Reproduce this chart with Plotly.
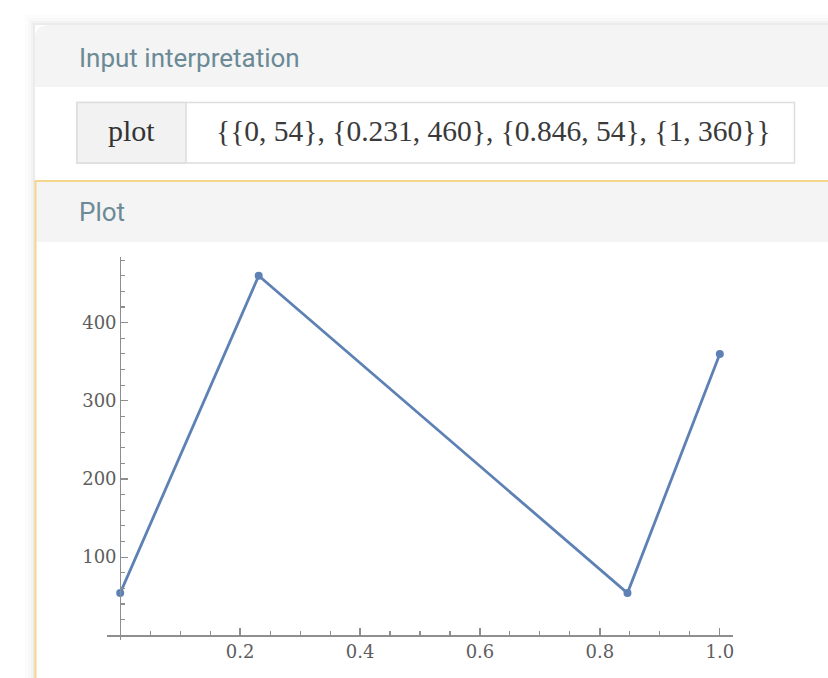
import plotly.graph_objects as go

# ---- data ----
x_vals = [0, 0.231, 0.846, 1]
y_vals = [54, 460, 54, 360]
x_tick_vals = [0.2, 0.4, 0.6, 0.8, 1.0]
x_tick_text = ["0.2", "0.4", "0.6", "0.8", "1.0"]
y_tick_vals = [100, 200, 300, 400]
y_tick_text = ["100", "200", "300", "400"]
input_label = "plot"
input_text = "{{0, 54}, {0.231, 460}, {0.846, 54}, {1, 360}}"
pod1_title = "Input interpretation"
pod2_title = "Plot"

W, H = 828, 678
ML, MT = 107, 257
PW, PH = 626, 383
MR = W - ML - PW
MB = H - MT - PH
x_range = [-0.022, 1.022]
y_range = [-6, 484]


def px(x):
    return (x - ML) / PW


def py(y):
    return 1 - (y - MT) / PH


fig = go.Figure()
fig.add_trace(go.Scatter(
    x=x_vals, y=y_vals, mode="lines+markers",
    line=dict(color="#5e81b5", width=2.8),
    marker=dict(color="#5e81b5", size=8),
    cliponaxis=False, hoverinfo="skip", showlegend=False,
))

shapes = []
# card shadow
for k, a in [(10, 0.010), (7, 0.014), (4, 0.020), (2, 0.030)]:
    shapes.append(dict(type="rect", xref="paper", yref="paper",
                       x0=px(35 - k), x1=px(W + 40), y0=py(25 - k), y1=py(H + 40),
                       line=dict(width=0), fillcolor=f"rgba(0,0,0,{a})", layer="below"))
# card white body
shapes.append(dict(type="rect", xref="paper", yref="paper",
                   x0=px(35), x1=px(W + 40), y0=py(25), y1=py(H + 40),
                   line=dict(width=0), fillcolor="white", layer="below"))
# header 1 with rounded top-left corner
r = 14
path = (f"M {px(35)},{py(87)} L {px(35)},{py(25 + r)} "
        f"Q {px(35)},{py(25)} {px(35 + r)},{py(25)} "
        f"L {px(W + 40)},{py(25)} L {px(W + 40)},{py(87)} Z")
shapes.append(dict(type="path", xref="paper", yref="paper", path=path,
                   line=dict(width=0), fillcolor="#f4f4f4", layer="below"))
# input box
shapes.append(dict(type="rect", xref="paper", yref="paper",
                   x0=px(77), x1=px(794.5), y0=py(102.5), y1=py(163),
                   line=dict(color="#dddddd", width=1.5), fillcolor="white", layer="below"))
shapes.append(dict(type="rect", xref="paper", yref="paper",
                   x0=px(77), x1=px(186), y0=py(102.5), y1=py(163),
                   line=dict(color="#dddddd", width=1.5), fillcolor="#f2f2f2", layer="below"))
# plot pod header
shapes.append(dict(type="rect", xref="paper", yref="paper",
                   x0=px(36), x1=px(W + 40), y0=py(181), y1=py(242),
                   line=dict(width=0), fillcolor="#f4f4f4", layer="below"))
# yellow borders
shapes.append(dict(type="line", xref="paper", yref="paper",
                   x0=px(35), x1=px(W + 40), y0=py(181), y1=py(181),
                   line=dict(color="#f5d78c", width=2), layer="below"))
shapes.append(dict(type="line", xref="paper", yref="paper",
                   x0=px(35.5), x1=px(35.5), y0=py(180), y1=py(H + 40),
                   line=dict(color="#f5d78c", width=2), layer="below"))

annotations = [
    dict(text=pod1_title, xref="paper", yref="paper", x=px(77), y=py(58),
         xanchor="left", yanchor="middle", showarrow=False,
         font=dict(family="Roboto", size=26, color="#6b8a96")),
    dict(text=pod2_title, xref="paper", yref="paper", x=px(77), y=py(212),
         xanchor="left", yanchor="middle", showarrow=False,
         font=dict(family="Roboto", size=26, color="#6b8a96")),
    dict(text=input_label, xref="paper", yref="paper", x=px(131.5), y=py(131),
         xanchor="center", yanchor="middle", showarrow=False,
         font=dict(family="Liberation Serif", size=30, color="#333333")),
    dict(text=input_text, xref="paper", yref="paper", x=px(214), y=py(131),
         xanchor="left", yanchor="middle", showarrow=False,
         font=dict(family="Liberation Serif", size=29.5, color="#3a3a3a")),
]

axis_color = "#8e8e8e"
label_font = dict(family="DejaVu Serif", size=18, color="#5e5e5e")

fig.update_layout(
    width=W, height=H,
    margin=dict(l=ML, r=MR, t=MT, b=MB, pad=0, autoexpand=False),
    paper_bgcolor="white", plot_bgcolor="white",
    shapes=shapes, annotations=annotations,
    xaxis=dict(
        range=x_range, anchor="free", automargin=False,
        position=(0 - y_range[0]) / (y_range[1] - y_range[0]),
        showgrid=False, zeroline=False,
        showline=True, linecolor=axis_color, linewidth=1.3,
        tickmode="array", tickvals=x_tick_vals, ticktext=x_tick_text,
        ticks="inside", ticklen=7, tickwidth=1.3, tickcolor=axis_color,
        tickfont=label_font,
        minor=dict(dtick=0.05, tick0=0, ticks="inside", ticklen=4,
                   tickwidth=1.1, tickcolor=axis_color, showgrid=False),
    ),
    yaxis=dict(
        range=y_range, anchor="free", automargin=False,
        position=(0 - x_range[0]) / (x_range[1] - x_range[0]),
        showgrid=False, zeroline=False,
        showline=True, linecolor=axis_color, linewidth=1.3,
        tickmode="array", tickvals=y_tick_vals, ticktext=y_tick_text,
        ticks="inside", ticklen=7, tickwidth=1.3, tickcolor=axis_color,
        tickfont=label_font,
        minor=dict(dtick=20, tick0=0, ticks="inside", ticklen=4,
                   tickwidth=1.1, tickcolor=axis_color, showgrid=False),
    ),
)

page_style = ("document.documentElement.style.overflow='hidden';"
              "document.body.style.overflow='hidden';"
              "document.body.style.margin='0';")
fig.write_html("out.html", post_script=page_style,
               config={"displayModeBar": False, "staticPlot": True})
